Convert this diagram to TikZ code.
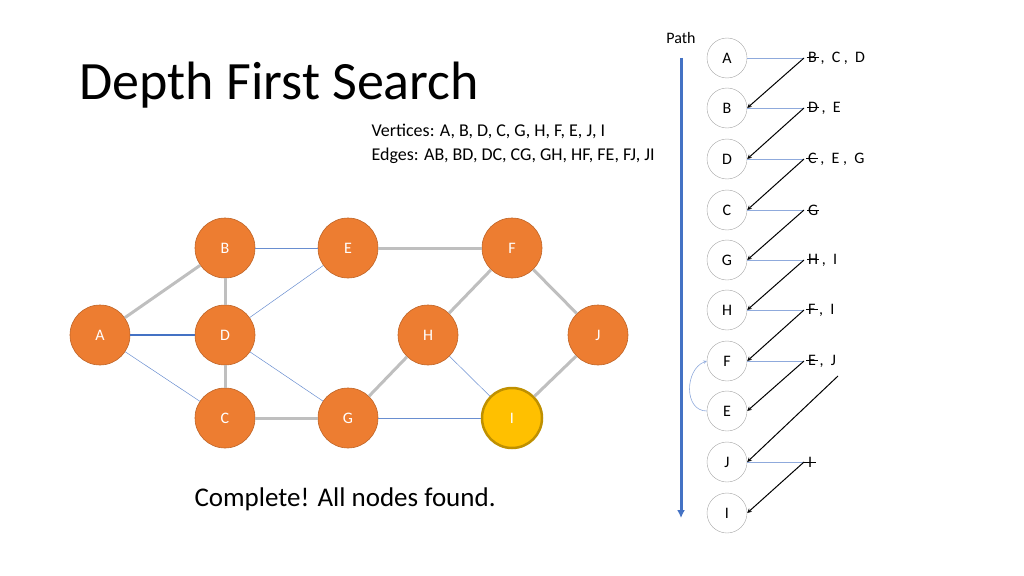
\documentclass[tikz,border=0pt]{standalone}
\usepackage{fontspec}
\setmainfont{Carlito}
\usetikzlibrary{arrows.meta}
\newcommand\strk[1]{\ooalign{#1\cr\hidewidth\rule[0.3em]{0.75em}{0.5pt}\hidewidth\cr}}
\definecolor{org}{HTML}{ED7D31}
\definecolor{gold}{HTML}{FFC000}
\definecolor{goldd}{HTML}{BF9000}
\definecolor{blu}{HTML}{4472C4}
\begin{document}
\begin{tikzpicture}[x=1pt,y=-1pt,
  gn/.style={circle,fill=org,draw=org!80!black,line width=0.6pt,minimum size=60pt,inner sep=0pt,text=white,font=\fontsize{16}{16}\selectfont},
  pn/.style={circle,draw=gray!70,minimum size=40pt,inner sep=0pt,font=\fontsize{16}{16}\selectfont},
  lst/.style={anchor=west,inner sep=0pt,font=\fontsize{16}{16}\selectfont},
  ge/.style={gray!50,line width=3pt},
  be/.style={blu!80,line width=0.5pt},
  ar/.style={->,line width=1pt,>=stealth},
  hl/.style={blu!60,line width=0.6pt}]
\useasboundingbox (0,0) rectangle (1024,575);
\node[anchor=west,font=\fontsize{54}{54}\selectfont] (title) at (76,85) {Depth First Search};
\node[anchor=west,font=\fontsize{18}{18}\selectfont] (vt) at (368,131) {Vertices: A, B, D, C, G, H, F, E, J, I};
\node[anchor=west,font=\fontsize{18}{18}\selectfont] (et) at (368,156) {Edges: AB, BD, DC, CG, GH, HF, FE, FJ, JI};
\node[anchor=west,font=\fontsize{27}{27}\selectfont] (done) at (191,499) {Complete! All nodes found.};
% graph
\node[gn] (A) at (100,335) {A};
\node[gn] (B) at (225,248) {B};
\node[gn] (E) at (348,248) {E};
\node[gn] (F) at (512,248) {F};
\node[gn] (D) at (225,335) {D};
\node[gn] (H) at (428,335) {H};
\node[gn] (J) at (598,335) {J};
\node[gn] (C) at (225,418) {C};
\node[gn] (G) at (348,418) {G};
\node[gn,fill=gold,draw=goldd,line width=2.5pt] (I) at (512,418) {I};
\draw[ge] (A)--(B); \draw[ge] (B)--(D); \draw[ge] (D)--(C); \draw[ge] (C)--(G);
\draw[ge] (G)--(H); \draw[ge] (H)--(F); \draw[ge] (F)--(J); \draw[ge] (J)--(I); \draw[ge] (E)--(F);
\draw[be] (B)--(E); \draw[blu,line width=1.2pt] (A)--(D); \draw[be] (A)--(C); \draw[be] (D)--(E);
\draw[be] (D)--(G); \draw[be] (H)--(I); \draw[be] (G)--(I);
% path
\node[font=\fontsize{16}{16}\selectfont] (path) at (681,38) {Path};
\coordinate (p0) at (681,58); \coordinate (p1) at (681,518);
\draw[blu,line width=3pt,-{Latex[length=8pt,width=8pt]}] (p0)--(p1);
\foreach \n/\y in {A/58,B/108,D/159,C/210,G/260,H/310,F/361,E/411,J/462,I/513}{
  \node[pn] (p\n) at (727,\y) {\n};
}
\node[lst] (lA) at (808,58) {\strk{B} ,\ \ C ,\ \ D};
\node[lst] (lB) at (808,108) {\strk{D} ,\ \ E};
\node[lst] (lD) at (808,159) {\strk{C} ,\ \ E ,\ \ G};
\node[lst] (lC) at (808,210) {\strk{G}};
\node[lst] (lG) at (808,260) {\strk{H} ,\ \ I};
\node[lst] (lH) at (808,310) {\strk{F} ,\ \ I};
\node[lst] (lF) at (808,361) {\strk{E} ,\ \ J};
\node[lst] (lJ) at (808,462) {\strk{I}};
\foreach \a/\b in {A/B,B/D,D/C,C/G,G/H,H/F,F/E,J/I}{
  \draw[hl] (p\a.east)--([xshift=-4pt]l\a.west);
  \draw[ar] ([xshift=-4pt]l\a.west)--(p\b.east);
}
\coordinate (jst) at (838,376);
\draw[ar] (jst)--(pJ.east);
\draw[hl,->,>=stealth] (pE.west) to[out=180,in=200,looseness=1.2] (pF.west);
\end{tikzpicture}
\end{document}
